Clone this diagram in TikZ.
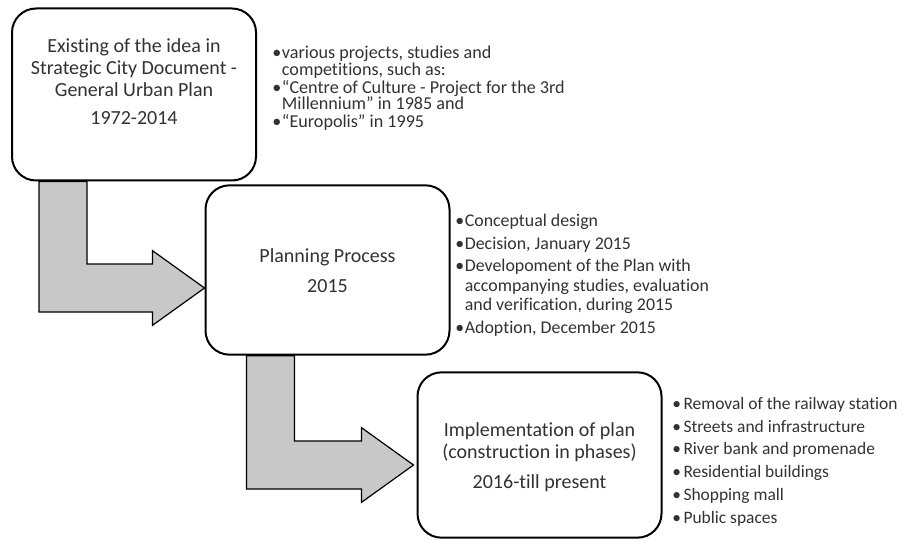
\documentclass[tikz,border=0pt]{standalone}
\usepackage{fontspec}
\setmainfont{Carlito}[Ligatures=NoCommon]
\usetikzlibrary{calc}

\definecolor{arrowgray}{RGB}{200,200,200}
\definecolor{textgray}{RGB}{50,50,50}

% fixed line distance in the note lists
\newcommand{\tightlines}{\lineskiplimit=-20pt\relax}

\tikzset{
  stage/.style={draw, line width=1.5pt, rounded corners=18pt, fill=white,
                minimum width=183pt, inner sep=0pt},
  stagetext/.style={align=center, text=textgray, inner sep=0pt,
                    font=\fontsize{15}{16.5}\selectfont},
  notes/.style={anchor=north west, align=left, inner sep=0pt, text=textgray},
  elbow/.style={draw, line width=0.9pt, fill=arrowgray, line join=miter},
}

% bullet and hanging indent for the note lists
\newcommand{\bul}[1][0.5pt]{•\hspace*{#1}}
\newcommand{\cont}[1][0.5pt]{\phantom{•}\hspace*{#1}}

% bent block arrow: shaft goes down from #1, then right to the tip #2
\newcommand{\elbowarrow}[2]{%
  \draw[elbow] let \p1=(#1), \p2=(#2) in
    (\x1,\y1) -- (\x1+36pt,\y1) -- (\x1+36pt,\y2+18pt) -- (\x2-39pt,\y2+18pt)
    -- (\x2-39pt,\y2+28pt) -- (\x2,\y2) -- (\x2-39pt,\y2-28pt)
    -- (\x2-39pt,\y2-18pt) -- (\x1,\y2-18pt) -- cycle;}

\begin{document}
\begin{tikzpicture}[x=0.75pt, y=0.75pt]
  \useasboundingbox (0,0) rectangle (907,540);

  % Stages
  \node[stage, minimum height=129pt] (idea) at (134,445.5) {};
  \node[stage, minimum height=127pt] (plan) at (327.5,270) {};
  \node[stage, minimum height=124pt] (impl) at (539.5,85) {};

  \node[stagetext] (idea-txt) at ($(idea.center)+(0,13)$)
    {Existing of the idea in\\ Strategic City Document -\\ General Urban Plan\\[5pt] 1972-2014};
  \node[stagetext] (plan-txt) at ($(plan.center)+(0,-1)$)
    {Planning Process\\[6pt] 2015};
  \node[stagetext] (impl-txt) at ($(impl.center)+(0,-2)$)
    {Implementation of plan\\ (construction in phases)\\[6pt] 2016-till present};

  % Arrows
  \coordinate (a1s) at ($(idea.south west)+(28,0)$);
  \coordinate (a1t) at ($(plan.west)+(0,-18)$);
  \coordinate (a2s) at ($(plan.south west)+(42,0)$);
  \coordinate (a2t) at ($(impl.west)+(-3,-10)$);
  \elbowarrow{a1s}{a1t}
  \elbowarrow{a2s}{a2t}

  % Notes
  \node[notes, font=\fontsize{13.6}{12.4}\selectfont\tightlines] (idea-notes) at (272,494)
    {\bul various projects, studies and\\
     \cont competitions, such as:\\[1.1pt]
     \bul “Centre of Culture - Project for the 3rd\\
     \cont Millennium” in 1985 and\\[1.1pt]
     \bul “Europolis” in 1995};
  \node[notes, font=\fontsize{13.4}{14.6}\selectfont\tightlines] (plan-notes) at (455,326)
    {\bul Conceptual design\\[2.3pt]
     \bul Decision, January 2015\\[2.3pt]
     \bul Developoment of the Plan with\\
     \cont accompanying studies, evaluation\\
     \cont and verification, during 2015\\[2.3pt]
     \bul Adoption, December 2015};
  \node[notes, font=\fontsize{13.1}{17.1}\selectfont\tightlines] (impl-notes) at (672,143)
    {\bul[1.9pt]Removal of the railway station\\
     \bul[1.9pt]Streets and infrastructure\\
     \bul[1.9pt]River bank and promenade\\
     \bul[1.9pt]Residential buildings\\
     \bul[1.9pt]Shopping mall\\
     \bul[1.9pt]Public spaces};
\end{tikzpicture}
\end{document}
